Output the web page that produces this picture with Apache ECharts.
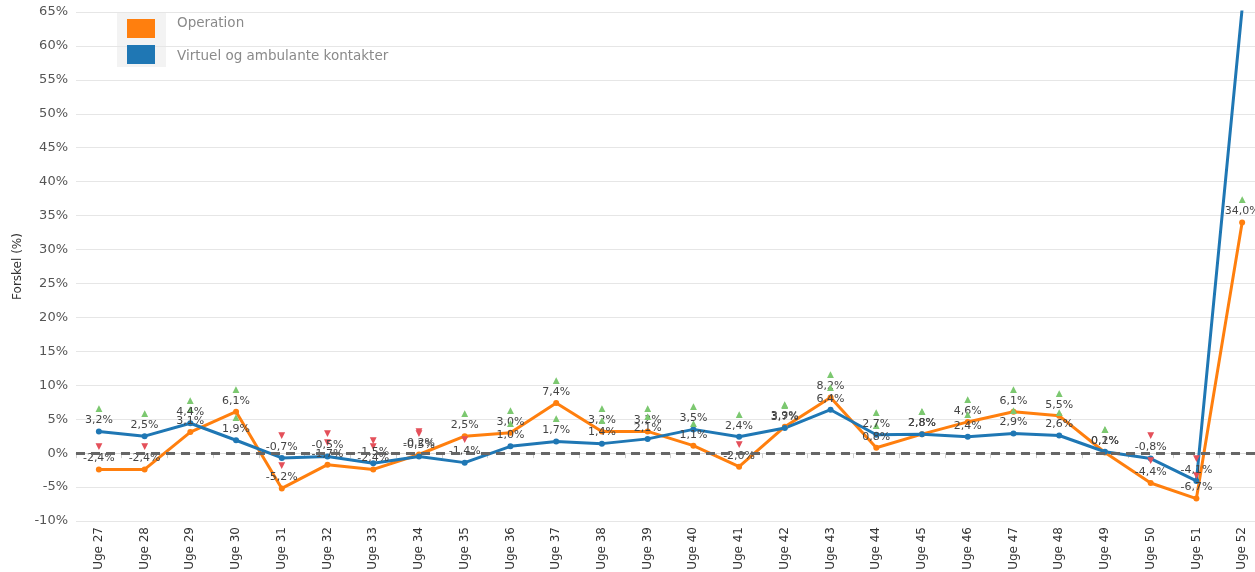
<!DOCTYPE html>
<html>
<head>
<meta charset="utf-8">
<script src="https://cdn.jsdelivr.net/npm/echarts@6/dist/echarts.min.js"></script>
<style>
  html, body { margin: 0; padding: 0; background: #fff; }
  #chart { width: 1255px; height: 572px; }
</style>
</head>
<body>
<div id="chart"></div>
<script>
// uger
var weeks = ['Uge 27', 'Uge 28', 'Uge 29', 'Uge 30', 'Uge 31', 'Uge 32', 'Uge 33', 'Uge 34', 'Uge 35',
    'Uge 36', 'Uge 37', 'Uge 38', 'Uge 39', 'Uge 40', 'Uge 41', 'Uge 42', 'Uge 43', 'Uge 44', 'Uge 45',
    'Uge 46', 'Uge 47', 'Uge 48', 'Uge 49', 'Uge 50', 'Uge 51', 'Uge 52'];
// forskel i procent
var operation = [-2.4, -2.4, 3.1, 6.1, -5.2, -1.7, -2.4, -0.2, 2.5, 3.0, 7.4, 3.2, 3.2, 1.1, -2.0, 3.9,
    8.2, 0.8, 2.8, 4.6, 6.1, 5.5, 0.1, -4.4, -6.7, 34.0];
var virtuel = [3.2, 2.5, 4.4, 1.9, -0.7, -0.5, -1.5, -0.5, -1.4, 1.0, 1.7, 1.4, 2.1, 3.5, 2.4, 3.7,
    6.4, 2.7, 2.8, 2.4, 2.9, 2.6, 0.2, -0.8, -4.1, 65.5];

var FONT = 'DejaVu Sans';

function fmt(v) {
    return v.toFixed(1).replace('.', ',') + '%';
}

var dataLabel = {
    show: true,
    position: 'top',
    distance: 2,
    fontFamily: FONT,
    formatter: function (p) {
        var v = p.value;
        return (v >= 0 ? '{up|▲}' : '{down|▼}') + '\n{v|' + fmt(v) + '}';
    },
    rich: {
        up: { color: '#7cc870', fontSize: 9, lineHeight: 11, fontFamily: FONT },
        down: { color: '#e4505a', fontSize: 9, lineHeight: 11, fontFamily: FONT },
        v: { color: '#444', fontSize: 11, lineHeight: 12, fontFamily: FONT }
    }
};

var chart = echarts.init(document.getElementById('chart'));
var option = {
    animation: false,
    graphic: [{
        type: 'rect',
        left: 117,
        top: 12,
        shape: { width: 49, height: 55 },
        style: { fill: '#f3f3f3' },
        z: -1
    }],
    legend: {
        orient: 'vertical',
        left: 122,
        top: 11,
        icon: 'rect',
        itemWidth: 28,
        itemHeight: 19,
        itemGap: 7,
        formatter: function (name) {
            return (name === 'Operation' ? '{a|' : '{b|') + name + '}';
        },
        textStyle: {
            color: '#8a8a8a', fontSize: 13.5, fontFamily: FONT,
            rich: {
                a: { color: '#8a8a8a', fontSize: 13.5, fontFamily: FONT, padding: [0, 0, 11, 17] },
                b: { color: '#8a8a8a', fontSize: 13.5, fontFamily: FONT, padding: [4, 0, 0, 17] }
            }
        },
        data: ['Operation', 'Virtuel og ambulante kontakter']
    },
    grid: {
        left: 76,
        width: 1189,
        top: 12,
        bottom: 51,
        outerBoundsMode: 'none'
    },
    xAxis: {
        type: 'category',
        data: weeks,
        boundaryGap: true,
        axisLine: { lineStyle: { color: '#dcdcdc' } },
        axisTick: { show: true, length: 5, lineStyle: { color: '#cfcfcf' } },
        axisLabel: {
            rotate: 90,
            interval: 0,
            margin: 6,
            color: '#333',
            fontSize: 12,
            fontFamily: FONT
        }
    },
    yAxis: {
        type: 'value',
        min: -10,
        max: 65,
        interval: 5,
        name: 'Forskel (%)',
        nameLocation: 'middle',
        nameGap: 52,
        nameTextStyle: { color: '#333', fontSize: 12, fontFamily: FONT },
        axisLine: { show: false },
        axisTick: { show: false },
        axisLabel: {
            formatter: '{value}%',
            color: '#555',
            fontSize: 13,
            fontFamily: FONT,
            margin: 8
        },
        splitLine: { lineStyle: { color: '#e6e6e6' } }
    },
    series: [
        {
            name: 'Operation',
            type: 'line',
            data: operation,
            color: '#ff7f0e',
            symbol: 'circle',
            symbolSize: 6,
            lineStyle: { width: 3 },
            label: dataLabel,
            markLine: {
                silent: true,
                symbol: 'none',
                label: { show: false },
                lineStyle: { color: '#666', type: [9, 6], width: 3 },
                data: [{ yAxis: 0 }]
            }
        },
        {
            name: 'Virtuel og ambulante kontakter',
            type: 'line',
            data: virtuel,
            color: '#1f77b4',
            symbol: 'circle',
            symbolSize: 6,
            lineStyle: { width: 3 },
            label: dataLabel
        }
    ]
};
chart.setOption(option);
</script>
</body>
</html>
